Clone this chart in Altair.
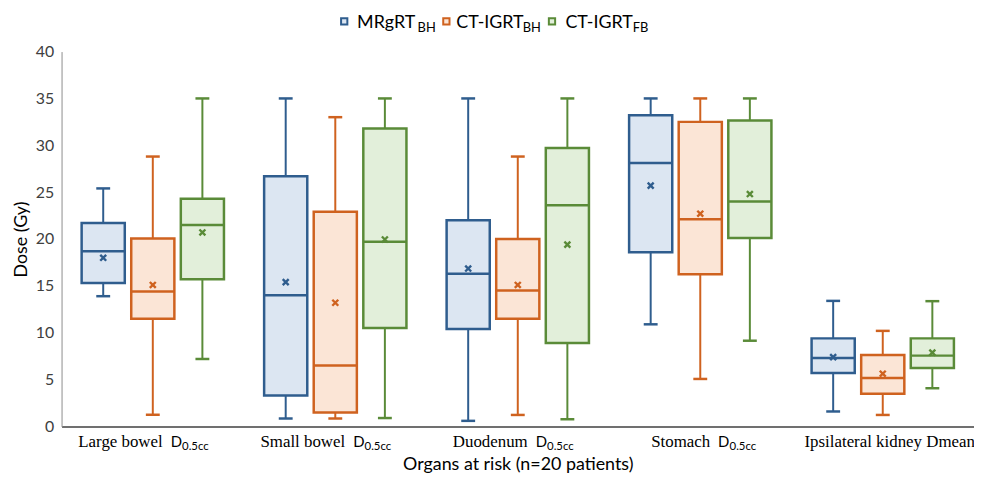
import altair as alt
import pandas as pd

# ---------------- data ----------------
organs = ["Large bowel", "Small bowel", "Duodenum", "Stomach", "Ipsilateral kidney"]
organ_names = ["Large bowel", "Small bowel", "Duodenum", "Stomach"]
kidney_label = ["Ipsilateral kidney Dmean"]
series = ["MRgRT_BH", "CT-IGRT_BH", "CT-IGRT_FB"]

# MRgRT (breath-hold)
mr_lo = [13.9, 0.85, 0.6, 10.9, 1.6]
mr_q1 = [15.3, 3.3, 10.4, 18.6, 5.7]
mr_med = [18.7, 14.0, 16.3, 28.1, 7.3]
mr_q3 = [21.7, 26.7, 22.0, 33.2, 9.4]
mr_hi = [25.4, 35.0, 35.0, 35.0, 13.4]
mr_mean = [18.0, 15.4, 16.85, 25.7, 7.4]

# CT-IGRT (breath-hold)
bh_lo = [1.25, 0.85, 1.23, 5.07, 1.23]
bh_q1 = [11.5, 1.5, 11.5, 16.25, 3.5]
bh_med = [14.4, 6.5, 14.5, 22.1, 5.17]
bh_q3 = [20.05, 22.9, 20.0, 32.5, 7.63]
bh_hi = [28.8, 33.0, 28.8, 35.0, 10.2]
bh_mean = [15.1, 13.2, 15.1, 22.7, 5.63]

# CT-IGRT (free breathing)
fb_lo = [7.2, 0.9, 0.77, 9.15, 4.08]
fb_q1 = [15.7, 10.5, 8.9, 20.1, 6.23]
fb_med = [21.5, 19.7, 23.6, 24.0, 7.56]
fb_q3 = [24.3, 31.8, 29.7, 32.65, 9.4]
fb_hi = [35.0, 35.0, 35.0, 35.0, 13.37]
fb_mean = [20.7, 19.95, 19.4, 24.8, 7.88]

y_ticks = [0, 5, 10, 15, 20, 25, 30, 35, 40]

rows = []
for s, (lo, q1, med, q3, hi, mn) in zip(series, [
    (mr_lo, mr_q1, mr_med, mr_q3, mr_hi, mr_mean),
    (bh_lo, bh_q1, bh_med, bh_q3, bh_hi, bh_mean),
    (fb_lo, fb_q1, fb_med, fb_q3, fb_hi, fb_mean),
]):
    for i, o in enumerate(organs):
        rows.append(dict(organ=o, series=s, lo=lo[i], q1=q1[i], med=med[i],
                         q3=q3[i], hi=hi[i], mean=mn[i]))
df = pd.DataFrame(rows)
lab_df = pd.DataFrame({"organ": organs[:4], "name": organ_names})
kid_df = pd.DataFrame({"organ": organs[4:], "name": kidney_label})

# ---------------- style ----------------
W, H = 920, 378
SANS = "Lato"
SERIF = "Liberation Serif"
dark = ["#2F5D8E", "#CF621F", "#5A8B38"]
light = ["#DCE6F2", "#FBE5D6", "#E2EFDA"]

x = alt.X("organ:N", sort=organs,
          scale=alt.Scale(paddingInner=0, paddingOuter=0),
          axis=alt.Axis(labels=False, ticks=False, domainColor="#404040",
                        domainWidth=1.5, title="Organs at risk (n=20 patients)",
                        titleFont=SANS, titleFontSize=18, titleFontWeight="normal",
                        titleColor="#000000", titlePadding=29))
xo = alt.XOffset("series:N", sort=series,
                 scale=alt.Scale(paddingInner=0.13, paddingOuter=0.405))
yaxis = alt.Axis(values=y_ticks, grid=False, ticks=False, domainColor="#8C8C8C",
                 labelFont=SANS, labelFontSize=16, labelColor="#404040",
                 labelPadding=8, title="Dose (Gy)", titleFont=SANS,
                 titleFontSize=18, titleFontWeight="normal", titleColor="#000000",
                 titlePadding=5)
yscale = alt.Scale(domain=[0, 40], nice=False)
col = alt.Color("series:N", scale=alt.Scale(domain=series, range=dark), legend=None)
fil = alt.Fill("series:N", scale=alt.Scale(domain=series, range=light), legend=None)

base = alt.Chart(df)

whisk = base.mark_rule(strokeWidth=2, opacity=1).encode(
    x=x, xOffset=xo, y=alt.Y("lo:Q", scale=yscale, axis=yaxis), y2="hi:Q", color=col)
cap_lo = base.mark_tick(size=14, thickness=2.5, orient="horizontal", opacity=1).encode(
    x=x, xOffset=xo, y=alt.Y("lo:Q", scale=yscale, axis=yaxis), color=col)
cap_hi = base.mark_tick(size=14, thickness=2.5, orient="horizontal", opacity=1).encode(
    x=x, xOffset=xo, y=alt.Y("hi:Q", scale=yscale, axis=yaxis), color=col)
box = base.mark_bar(strokeWidth=2.5, opacity=1).encode(
    x=x, xOffset=xo, y=alt.Y("q1:Q", scale=yscale, axis=yaxis), y2="q3:Q",
    fill=fil, stroke=alt.Stroke("series:N", scale=alt.Scale(domain=series, range=dark), legend=None))
med = base.mark_tick(size=44, thickness=2.5, orient="horizontal", opacity=1).encode(
    x=x, xOffset=xo, y=alt.Y("med:Q", scale=yscale, axis=yaxis), color=col)
mean = base.mark_point(shape="M-1,-1L1,1M-1,1L1,-1", size=36, strokeWidth=2.4,
                       filled=False, opacity=1).encode(
    x=x, xOffset=xo, y=alt.Y("mean:Q", scale=yscale, axis=yaxis), color=col)

# category labels (name in serif + D with subscript)
lab_name = alt.Chart(lab_df).mark_text(font=SERIF, fontSize=17, align="right",
                                       baseline="alphabetic", dx=10, color="#000000").encode(
    x=alt.X("organ:N", sort=organs), y=alt.value(H + 21), text="name:N")
lab_d = alt.Chart(lab_df).mark_text(font=SANS, fontSize=15, align="left",
                                    baseline="alphabetic", dx=18, color="#000000",
                                    text="D").encode(
    x=alt.X("organ:N", sort=organs), y=alt.value(H + 21))
lab_sub = alt.Chart(lab_df).mark_text(font=SANS, fontSize=11.5, align="left",
                                      baseline="alphabetic", dx=29.5, color="#000000",
                                      text="0.5cc").encode(
    x=alt.X("organ:N", sort=organs), y=alt.value(H + 24))
lab_kid = alt.Chart(kid_df).mark_text(font=SERIF, fontSize=17, align="center",
                                      baseline="alphabetic", dx=7, color="#000000").encode(
    x=alt.X("organ:N", sort=organs), y=alt.value(H + 21), text="name:N")

# legend (hand drawn for subscripts)
one = pd.DataFrame({"k": [0]})
leg_layers = []
leg_items = [("MRgRT", "BH", 285, 298, 359), ("CT-IGRT", "BH", 388, 398, 465),
             ("CT-IGRT", "FB", 494.5, 508, 576)]
for (main, sub, sx, tx, bx), dc, lc in zip(leg_items, dark, light):
    leg_layers.append(alt.Chart(one).mark_point(shape="square", size=40, filled=True,
                                                fill=lc, stroke=dc, strokeWidth=2,
                                                opacity=1).encode(
        x=alt.value(sx), y=alt.value(-30.5)))
    leg_layers.append(alt.Chart(one).mark_text(font=SANS, fontSize=18, align="left",
                                               baseline="alphabetic", text=main,
                                               color="#000000").encode(
        x=alt.value(tx), y=alt.value(-23.5)))
    leg_layers.append(alt.Chart(one).mark_text(font=SANS, fontSize=13, align="left",
                                               baseline="alphabetic", text=sub,
                                               color="#000000").encode(
        x=alt.value(bx), y=alt.value(-19.5)))

chart = alt.layer(whisk, cap_lo, cap_hi, box, med, mean,
                  lab_name, lab_d, lab_sub, lab_kid, *leg_layers).properties(
    width=W, height=H,
    autosize=alt.AutoSizeParams(type="none"),
    padding={"left": 54, "top": 42, "right": 0, "bottom": 48},
    background="white",
).configure_view(stroke=None)

chart.save("out.html", embed_options={"renderer": "svg", "actions": False})
